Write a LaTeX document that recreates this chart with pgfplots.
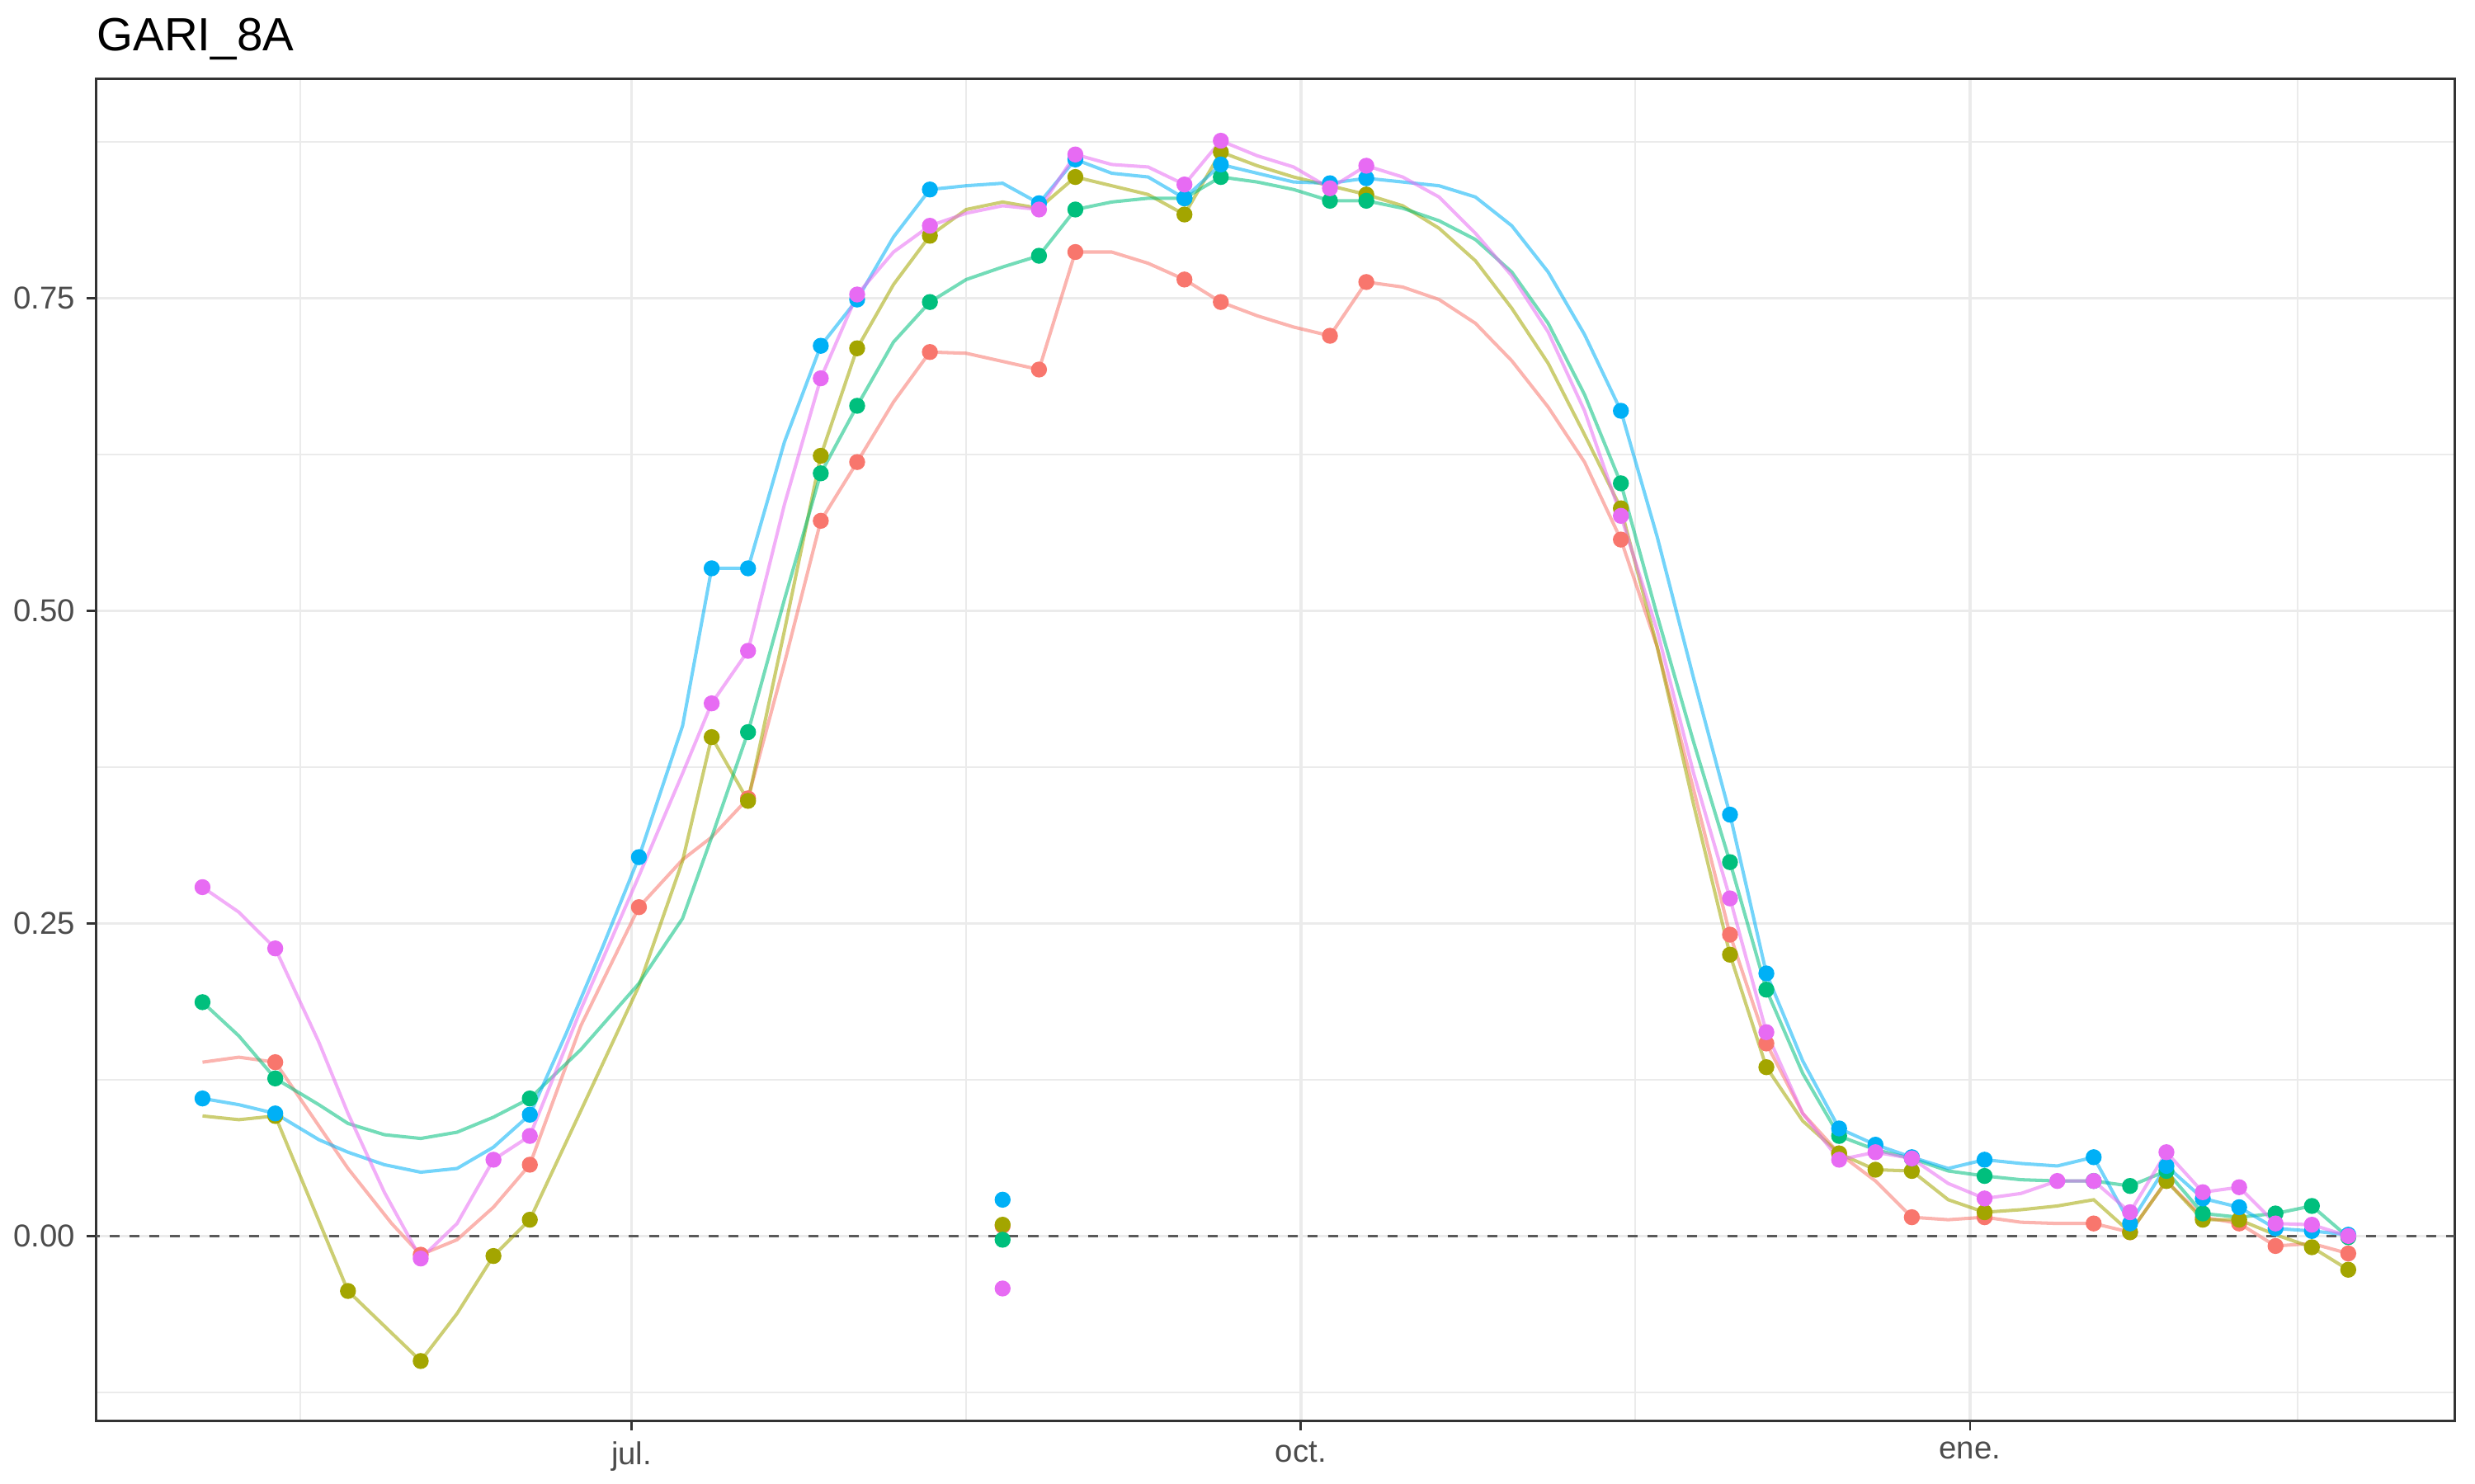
\documentclass[border=0pt]{standalone}
\usepackage{fontspec}
\setmainfont{Liberation Sans}
\usepackage{pgfplots}
\pgfplotsset{compat=1.18}
\definecolor{cR}{HTML}{F8766D}
\definecolor{cO}{HTML}{A3A500}
\definecolor{cG}{HTML}{00BF7D}
\definecolor{cB}{HTML}{00B0F6}
\definecolor{cP}{HTML}{E76BF3}
\definecolor{gridc}{HTML}{EBEBEB}
\definecolor{g20}{HTML}{333333}
\begin{document}
\begin{tikzpicture}
\begin{axis}[
  scale only axis, width=24.9cm, height=14.17cm,
  xmin=-73.6, xmax=250.6, ymin=-0.1477, ymax=0.9255,
  xtick={0,92,184}, xticklabels={jul.,oct.,ene.},
  minor xtick={-45.5,46,138,229},
  ytick={0,0.25,0.5,0.75}, minor ytick={-0.125,0.125,0.375,0.625,0.875},
  yticklabel style={/pgf/number format/.cd,fixed,fixed zerofill,precision=2},
  /pgf/number format/assume math mode=true,
  tick label style={font=\fontsize{9.5}{11}\selectfont, text=black!70},
  xtick pos=bottom, ytick pos=left,
  grid=both,
  major grid style={gridc, line width=0.9pt},
  minor grid style={gridc, line width=0.5pt},
  axis line style={g20, line width=0.7pt},
  tick style={g20, line width=0.7pt},
  tick align=outside, major tick length=0.1cm, minor tick length=0pt,
  clip=true,
]
\addplot[black!65, dashed, line width=0.9pt] coordinates {(-80,0) (260,0)};
% smoothed lines
\addplot[cR, opacity=0.55, line width=1pt] coordinates {(-59,0.139)(-54,0.143)(-49,0.139)(-39,0.054)(-33,0.010)(-29,-0.015)(-24,-0.003)(-19,0.023)(-14,0.057)(-7,0.168)(1,0.263)(7,0.301)(11,0.319)(16,0.350)(21,0.458)(26,0.572)(31,0.619)(36,0.667)(41,0.707)(46,0.706)(56,0.693)(61,0.787)(66,0.787)(71,0.778)(76,0.765)(81,0.747)(86,0.736)(91,0.727)(96,0.720)(101,0.763)(106,0.759)(111,0.749)(116,0.730)(121,0.700)(126,0.663)(131,0.619)(136,0.557)(141,0.471)(146,0.357)(151,0.241)(156,0.154)(161,0.098)(166,0.066)(171,0.044)(176,0.015)(181,0.013)(186,0.015)(191,0.011)(196,0.010)(201,0.010)(206,0.003)(211,0.044)(216,0.015)(221,0.010)(226,-0.008)(231,-0.006)(236,-0.014)};
\addplot[cO, opacity=0.55, line width=1pt] coordinates {(-59,0.096)(-54,0.093)(-49,0.096)(-39,-0.044)(-34,-0.072)(-29,-0.100)(-24,-0.062)(-19,-0.016)(-14,0.013)(-7,0.100)(1,0.200)(7,0.300)(11,0.399)(16,0.348)(21,0.484)(26,0.624)(31,0.710)(36,0.761)(41,0.800)(46,0.821)(51,0.827)(56,0.822)(61,0.847)(66,0.840)(71,0.833)(76,0.817)(81,0.867)(86,0.856)(91,0.847)(96,0.840)(101,0.833)(106,0.824)(111,0.806)(116,0.780)(121,0.742)(126,0.698)(131,0.641)(136,0.582)(141,0.471)(146,0.345)(151,0.225)(156,0.135)(161,0.092)(166,0.066)(171,0.053)(176,0.052)(181,0.029)(186,0.019)(191,0.021)(196,0.024)(201,0.029)(206,0.003)(211,0.044)(216,0.013)(221,0.013)(226,0.001)(231,-0.009)(236,-0.027)};
\addplot[cG, opacity=0.55, line width=1pt] coordinates {(-59,0.187)(-54,0.160)(-49,0.126)(-43,0.105)(-39,0.090)(-34,0.081)(-29,0.078)(-24,0.083)(-19,0.095)(-14,0.110)(-7,0.149)(1,0.202)(7,0.254)(11,0.319)(16,0.403)(21,0.509)(26,0.610)(31,0.664)(36,0.715)(41,0.747)(46,0.765)(51,0.775)(56,0.784)(61,0.821)(66,0.827)(71,0.830)(76,0.830)(81,0.847)(86,0.843)(91,0.837)(96,0.828)(101,0.828)(106,0.822)(111,0.812)(116,0.797)(121,0.771)(126,0.730)(131,0.673)(136,0.602)(141,0.496)(146,0.395)(151,0.299)(156,0.197)(161,0.130)(166,0.080)(171,0.069)(176,0.062)(181,0.052)(186,0.048)(191,0.045)(196,0.044)(201,0.044)(206,0.040)(211,0.052)(216,0.018)(221,0.015)(226,0.018)(231,0.024)(236,-0.001)};
\addplot[cB, opacity=0.55, line width=1pt] coordinates {(-59,0.110)(-54,0.105)(-49,0.098)(-43,0.077)(-39,0.067)(-34,0.057)(-29,0.051)(-24,0.054)(-19,0.071)(-14,0.097)(-9,0.162)(-4,0.231)(1,0.303)(7,0.408)(11,0.534)(16,0.534)(21,0.635)(26,0.712)(31,0.749)(36,0.799)(41,0.837)(46,0.840)(51,0.842)(56,0.826)(61,0.861)(66,0.850)(71,0.847)(76,0.830)(81,0.857)(86,0.850)(91,0.843)(96,0.842)(101,0.846)(106,0.843)(111,0.840)(116,0.831)(121,0.808)(126,0.771)(131,0.721)(136,0.660)(141,0.559)(146,0.446)(151,0.337)(156,0.210)(161,0.140)(166,0.086)(171,0.073)(176,0.063)(181,0.054)(186,0.061)(191,0.058)(196,0.056)(201,0.063)(206,0.010)(211,0.056)(216,0.030)(221,0.023)(226,0.006)(231,0.004)(236,0.001)};
\addplot[cP, opacity=0.55, line width=1pt] coordinates {(-59,0.279)(-54,0.259)(-49,0.230)(-43,0.155)(-39,0.098)(-34,0.035)(-29,-0.018)(-24,0.010)(-19,0.061)(-14,0.080)(-7,0.181)(1,0.288)(7,0.370)(11,0.426)(16,0.468)(21,0.585)(26,0.686)(31,0.753)(36,0.787)(41,0.808)(46,0.818)(51,0.824)(56,0.821)(61,0.865)(66,0.857)(71,0.855)(76,0.841)(81,0.876)(86,0.864)(91,0.855)(96,0.838)(101,0.856)(106,0.847)(111,0.831)(116,0.802)(121,0.768)(126,0.723)(131,0.660)(136,0.576)(141,0.484)(146,0.370)(151,0.270)(156,0.163)(161,0.098)(166,0.061)(171,0.067)(176,0.062)(181,0.042)(186,0.030)(191,0.034)(196,0.044)(201,0.044)(206,0.019)(211,0.067)(216,0.035)(221,0.039)(226,0.010)(231,0.009)(236,0.000)};
% points
\addplot[only marks, mark=*, mark size=2.2pt, cR, mark options={draw=none, fill=cR}] coordinates {(-49,0.139)(-29,-0.015)(-14,0.057)(1,0.263)(16,0.350)(26,0.572)(31,0.619)(41,0.707)(51,0.008)(56,0.693)(61,0.787)(76,0.765)(81,0.747)(96,0.720)(101,0.763)(136,0.557)(151,0.241)(156,0.154)(166,0.066)(176,0.015)(186,0.015)(201,0.010)(206,0.003)(211,0.044)(216,0.015)(221,0.010)(226,-0.008)(236,-0.014)};
\addplot[only marks, mark=*, mark size=2.2pt, cO, mark options={draw=none, fill=cO}] coordinates {(-49,0.096)(-39,-0.044)(-29,-0.100)(-19,-0.016)(-14,0.013)(11,0.399)(16,0.348)(26,0.624)(31,0.710)(41,0.800)(51,0.009)(61,0.847)(76,0.817)(81,0.867)(101,0.833)(136,0.582)(151,0.225)(156,0.135)(166,0.066)(171,0.053)(176,0.052)(186,0.019)(206,0.003)(211,0.044)(216,0.013)(221,0.013)(231,-0.009)(236,-0.027)};
\addplot[only marks, mark=*, mark size=2.2pt, cG, mark options={draw=none, fill=cG}] coordinates {(-59,0.187)(-49,0.126)(-14,0.110)(16,0.403)(26,0.610)(31,0.664)(41,0.747)(51,-0.003)(56,0.784)(61,0.821)(76,0.830)(81,0.847)(96,0.828)(101,0.828)(136,0.602)(151,0.299)(156,0.197)(166,0.080)(176,0.062)(186,0.048)(201,0.044)(206,0.040)(211,0.052)(216,0.018)(226,0.018)(231,0.024)(236,-0.001)};
\addplot[only marks, mark=*, mark size=2.2pt, cB, mark options={draw=none, fill=cB}] coordinates {(-59,0.110)(-49,0.098)(-14,0.097)(1,0.303)(11,0.534)(16,0.534)(26,0.712)(31,0.749)(41,0.837)(51,0.029)(56,0.826)(61,0.861)(76,0.830)(81,0.857)(96,0.842)(101,0.846)(136,0.660)(151,0.337)(156,0.210)(166,0.086)(171,0.073)(176,0.063)(186,0.061)(201,0.063)(206,0.010)(211,0.056)(216,0.030)(221,0.023)(226,0.006)(231,0.004)(236,0.001)};
\addplot[only marks, mark=*, mark size=2.2pt, cP, mark options={draw=none, fill=cP}] coordinates {(-59,0.279)(-49,0.230)(-29,-0.018)(-19,0.061)(-14,0.080)(11,0.426)(16,0.468)(26,0.686)(31,0.753)(41,0.808)(51,-0.042)(56,0.821)(61,0.865)(76,0.841)(81,0.876)(96,0.838)(101,0.856)(136,0.576)(151,0.270)(156,0.163)(166,0.061)(171,0.067)(176,0.062)(186,0.030)(196,0.044)(201,0.044)(206,0.019)(211,0.067)(216,0.035)(221,0.039)(226,0.010)(231,0.009)(236,0.000)};
\end{axis}
\node[anchor=base west, inner sep=0pt, font=\fontsize{14}{16}\selectfont] at ([yshift=0.3cm]current axis.north west) {GARI\_8A};
\useasboundingbox ([xshift=-1.017cm, yshift=-0.667cm]current axis.south west) rectangle ([xshift=0.217cm, yshift=0.833cm]current axis.north east);
\end{tikzpicture}
\end{document}
